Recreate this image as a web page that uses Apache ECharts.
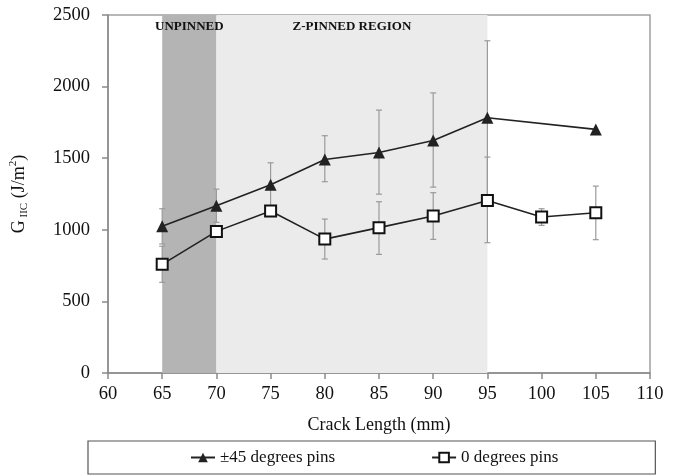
<!DOCTYPE html>
<html>
<head>
<meta charset="utf-8">
<script src="https://cdn.jsdelivr.net/npm/echarts@6/dist/echarts.min.js"></script>
<style>html,body{margin:0;padding:0;background:#fff}#c{width:680px;height:476px}</style>
</head>
<body>
<div id="c"></div>
<script>
const crackLength = [65, 70, 75, 80, 85, 90, 95, 100, 105];
const pins45 = [1024, 1168, 1315, 1491, 1540, 1624, 1782, null, 1701];
const pins45Low = [901, 1052, 1162, 1336, 1249, 1298, 1244, null, null];
const pins45High = [1147, 1284, 1468, 1657, 1836, 1956, 2320, null, null];
const pins0 = [759, 989, 1131, 935, 1015, 1096, 1205, 1089, 1119];
const pins0Low = [633, null, null, 796, 828, 933, 910, 1031, 931];
const pins0High = [885, null, null, 1075, 1196, 1259, 1508, 1147, 1305];
const regions = [
  { name: 'UNPINNED', from: 65, to: 70 },
  { name: 'Z-PINNED REGION', from: 70, to: 95 }
];
const xTicks = { min: 60, max: 110, interval: 5 };
const yTicks = { min: 0, max: 2500, interval: 500 };
const seriesNames = ['±45 degrees pins', '0 degrees pins'];

const FONT = "'Liberation Serif', 'Times New Roman', serif";

function pairs(xs, ys) {
  const out = [];
  xs.forEach((x, i) => { if (ys[i] != null) out.push([x, ys[i]]); });
  return out;
}
function errPairs(xs, lo, hi) {
  const out = [];
  xs.forEach((x, i) => { if (lo[i] != null && hi[i] != null) out.push([x, lo[i], hi[i]]); });
  return out;
}
function errRender(params, api) {
  const x = api.value(0);
  const p1 = api.coord([x, api.value(1)]);
  const p2 = api.coord([x, api.value(2)]);
  const w = 3;
  const st = { stroke: '#9a9a9a', lineWidth: 1.2 };
  return {
    type: 'group',
    children: [
      { type: 'line', shape: { x1: p1[0], y1: p1[1], x2: p2[0], y2: p2[1] }, style: st },
      { type: 'line', shape: { x1: p1[0] - w, y1: p1[1], x2: p1[0] + w, y2: p1[1] }, style: st },
      { type: 'line', shape: { x1: p2[0] - w, y1: p2[1], x2: p2[0] + w, y2: p2[1] }, style: st }
    ]
  };
}

const chart = echarts.init(document.getElementById('c'), null, { renderer: 'canvas' });
chart.setOption({
  animation: false,
  textStyle: { fontFamily: FONT, color: '#111' },
  grid: { left: 105, right: 30, top: 15, bottom: 103, show: true, borderColor: '#a0a0a0', borderWidth: 1.5 },
  xAxis: {
    type: 'value', min: xTicks.min, max: xTicks.max, interval: xTicks.interval,
    name: 'Crack Length (mm)', nameLocation: 'middle', nameGap: 43,
    nameTextStyle: { fontFamily: FONT, fontSize: 18, color: '#111' },
    axisLine: { lineStyle: { color: '#8a8a8a', width: 1.5 } },
    axisTick: { show: true, length: 6, lineStyle: { color: '#8a8a8a', width: 1.5 } },
    axisLabel: { fontFamily: FONT, fontSize: 18.5, color: '#111', margin: 12, formatter: v => String(v) },
    splitLine: { show: false }
  },
  yAxis: {
    type: 'value', min: yTicks.min, max: yTicks.max, interval: yTicks.interval,
    name: '{a|G}{b| IIC}{a| (J/m}{c|2}{a|)}', nameLocation: 'middle', nameGap: 78, nameRotate: 90,
    nameTextStyle: {
      fontFamily: FONT, color: '#111',
      rich: {
        a: { fontFamily: FONT, fontSize: 18, color: '#111', lineHeight: 22 },
        b: { fontFamily: FONT, fontSize: 11, color: '#111', verticalAlign: 'bottom', lineHeight: 22 },
        c: { fontFamily: FONT, fontSize: 11, color: '#111', verticalAlign: 'top', lineHeight: 22 }
      }
    },
    axisLine: { show: true, lineStyle: { color: '#8a8a8a', width: 1.5 } },
    axisTick: { show: true, length: 6, lineStyle: { color: '#8a8a8a', width: 1.5 } },
    axisLabel: { fontFamily: FONT, fontSize: 18.5, color: '#111', margin: 18, formatter: v => String(v) },
    splitLine: { show: false }
  },
  legend: {
    left: 88, top: 441,
    data: [
      { name: seriesNames[0] },
      { name: seriesNames[1] }
    ],
    itemWidth: 24, itemHeight: 12, itemGap: 96,
    padding: [8, 97, 8, 102],
    borderColor: '#555', borderWidth: 1.2,
    textStyle: { fontFamily: FONT, fontSize: 17, color: '#111' }
  },
  series: [
    {
      type: 'line', data: [], z: 0, silent: true,
      markArea: {
        silent: true,
        label: { show: true, position: 'insideTop', distance: 5, fontFamily: FONT, fontWeight: 'bold', fontSize: 13, color: '#111' },
        data: [
          [{ name: regions[0].name, xAxis: regions[0].from, itemStyle: { color: '#b4b4b4' } }, { xAxis: regions[0].to }],
          [{ name: regions[1].name, xAxis: regions[1].from, itemStyle: { color: '#ebebeb' } }, { xAxis: regions[1].to }]
        ]
      }
    },
    {
      type: 'custom', z: 1, silent: true,
      renderItem: errRender, encode: { x: 0, y: [1, 2] },
      data: errPairs(crackLength, pins45Low, pins45High)
    },
    {
      type: 'custom', z: 1, silent: true,
      renderItem: errRender, encode: { x: 0, y: [1, 2] },
      data: errPairs(crackLength, pins0Low, pins0High)
    },
    {
      name: seriesNames[0], type: 'line', z: 3,
      data: pairs(crackLength, pins45),
      symbol: 'triangle', symbolSize: 12,
      lineStyle: { color: '#222', width: 1.6 },
      itemStyle: { color: '#222', borderWidth: 0 }
    },
    {
      name: seriesNames[1], type: 'line', z: 3,
      data: pairs(crackLength, pins0),
      symbol: 'rect', symbolSize: 11,
      lineStyle: { color: '#222', width: 1.6 },
      itemStyle: { color: '#fff', borderColor: '#111', borderWidth: 2 }
    }
  ]
});
</script>
</body>
</html>
